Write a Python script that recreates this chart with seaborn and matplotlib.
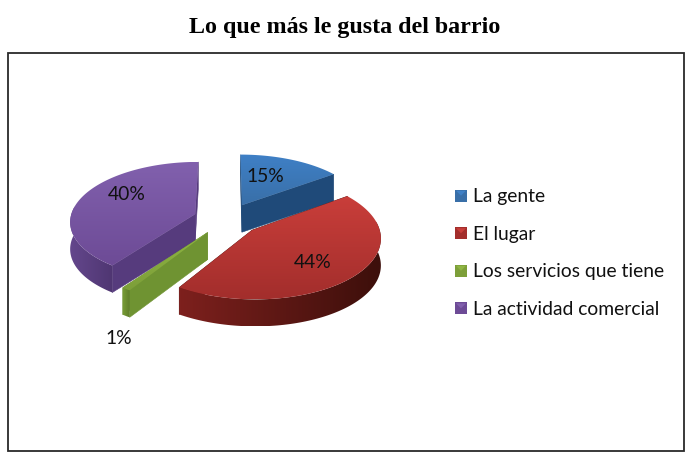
import numpy as np
import matplotlib
matplotlib.use("Agg")
import matplotlib.pyplot as plt
import seaborn as sns
from matplotlib.colors import LinearSegmentedColormap
from matplotlib.legend_handler import HandlerBase
from matplotlib.patches import Patch, Polygon, Rectangle

title = "Lo que más le gusta del barrio"
categories = ["La gente", "El lugar", "Los servicios que tiene", "La actividad comercial"]
shares = [15, 44, 1, 40]
pct_labels = ["15%", "44%", "1%", "40%"]
top_light = ["#3f80c6", "#c93e3a", "#8fb543", "#8160ad"]
top_dark = ["#396fa8", "#a32e2c", "#7d9f39", "#6d4b96"]
wall_light = ["#215083", "#7d201d", "#769a35", "#64478c"]
wall_dark = ["#1c446f", "#3d0f0b", "#5f7e2a", "#4f3672"]
face_color = ["#1f4a79", "#5a1512", "#6f9332", "#563b7d"]
label_xy = [(265, 176), (313, 263), (119, 339), (127, 195)]

sns.set_theme(style="white")
plt.rcParams["font.family"] = ["Lato", "DejaVu Sans"]

fig = plt.figure(figsize=(6.96, 4.70), dpi=100)
ax = fig.add_axes([0, 0, 1, 1])
ax.set_xlim(0, 696)
ax.set_ylim(470, 0)
ax.axis("off")

# Camera used to flatten the exploded pie onto the page
CX, CY, RX, RY, PERSP, DEPTH, EXPLODE = 227, 219, 125, 59, 0.11, 27, 0.27


def project(x, y, drop=0.0):
    s = 1.0 / (1.0 + PERSP * y)
    return CX + RX * x * s, CY - RY * y * s + DEPTH * drop


def fill_gradient(poly, c_start, c_end, zorder, horizontal=False):
    cmap = LinearSegmentedColormap.from_list("g", [c_start, c_end])
    x0, y0 = poly.min(axis=0)
    x1, y1 = poly.max(axis=0)
    ramp = np.linspace(0, 1, 64)
    data = ramp[None, :] if horizontal else ramp[:, None]
    # the ramp runs left to right when horizontal, top to bottom otherwise
    extent = (x0, x1, y0, y1) if horizontal else (x0, x1, y1, y0)
    im = ax.imshow(data, cmap=cmap, aspect="auto", extent=extent, origin="upper",
                   zorder=zorder, interpolation="bilinear")
    patch = Polygon(poly, closed=True, fc="none", ec="none", transform=ax.transData)
    ax.add_patch(patch)
    im.set_clip_path(patch)


fractions = np.cumsum([0] + shares) / sum(shares)
zorder = 2
for i in [0, 3, 2, 1]:
    t0, t1 = 2 * np.pi * fractions[i], 2 * np.pi * fractions[i + 1]
    mid = (t0 + t1) / 2
    ox, oy = EXPLODE * np.sin(mid), EXPLODE * np.cos(mid)
    th = np.linspace(t0, t1, 120)
    arc_x, arc_y = ox + np.sin(th), oy + np.cos(th)

    # cut faces
    for t in (t0, t1):
        ex, ey = ox + np.sin(t), oy + np.cos(t)
        quad = [project(ox, oy), project(ex, ey), project(ex, ey, 1), project(ox, oy, 1)]
        ax.add_patch(Polygon(quad, closed=True, fc=face_color[i], ec=face_color[i], lw=0.4, zorder=zorder))

    # outer wall on the side facing the viewer
    near = np.cos(th) <= 0.15
    if near.sum() > 1:
        upper = [project(a, b) for a, b in zip(arc_x[near], arc_y[near])]
        lower = [project(a, b, 1) for a, b in zip(arc_x[near], arc_y[near])]
        fill_gradient(np.array(upper + lower[::-1]), wall_light[i], wall_dark[i], zorder + 0.2, horizontal=True)

    # upper face
    pts = [project(ox, oy)] + [project(a, b) for a, b in zip(arc_x, arc_y)]
    fill_gradient(np.array(pts), top_light[i], top_dark[i], zorder + 0.5)
    zorder += 1

ax.set_xlim(0, 696)
ax.set_ylim(470, 0)

for txt, (x, y) in zip(pct_labels, label_xy):
    ax.text(x, y, txt, ha="center", va="center", fontsize=13.9, color="#111111", zorder=20)

ax.add_patch(Rectangle((8, 53), 676, 398, fc="none", ec="#2a2a2a", lw=1.3, zorder=1))
ax.text(345, 27.5, title, ha="center", va="center", fontsize=17.3, fontweight="bold",
        family="Liberation Serif", color="black")


class BevelHandler(HandlerBase):
    def create_artists(self, legend, orig, xd, yd, w, h, fontsize, trans):
        side = 8.6
        x0, y0 = -xd, (h - side) / 2 - yd
        base = Rectangle((x0, y0), side, side, fc=orig.get_edgecolor(), ec="none", transform=trans)
        tri = Polygon([(x0 + 0.7, y0 + side - 0.7), (x0 + side - 0.7, y0 + side - 0.7), (x0 + side / 2, y0 + side / 2)],
                      closed=True, fc=orig.get_facecolor(), ec="none", transform=trans)
        return [base, tri]


handles = [Patch(fc=top_light[i], ec=top_dark[i]) for i in range(4)]
leg = ax.legend(handles, categories, loc="center left", bbox_to_anchor=(455 / 696, 1 - 252.5 / 470),
                frameon=False, fontsize=13.9, labelspacing=1.0, handlelength=0.62, handleheight=1.0,
                handletextpad=0.33, borderpad=0, borderaxespad=0,
                handler_map={Patch: BevelHandler()})
for t in leg.get_texts():
    t.set_color("#111111")

fig.savefig("out.png", dpi=100)
